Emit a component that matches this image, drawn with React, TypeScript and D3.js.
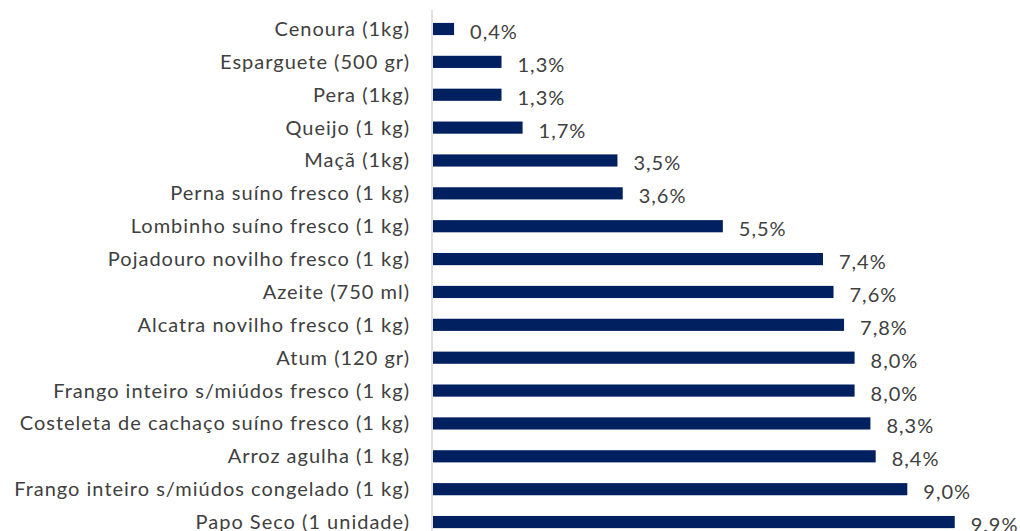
import React from "react";
import * as d3 from "d3";

const categories = [
  "Cenoura (1kg)",
  "Esparguete (500 gr)",
  "Pera (1kg)",
  "Queijo (1 kg)",
  "Maçã (1kg)",
  "Perna suíno fresco (1 kg)",
  "Lombinho suíno fresco (1 kg)",
  "Pojadouro novilho fresco (1 kg)",
  "Azeite (750 ml)",
  "Alcatra novilho fresco (1 kg)",
  "Atum (120 gr)",
  "Frango inteiro s/miúdos fresco (1 kg)",
  "Costeleta de cachaço suíno fresco (1 kg)",
  "Arroz agulha (1 kg)",
  "Frango inteiro s/miúdos congelado (1 kg)",
  "Papo Seco (1 unidade)",
];
const values = [0.4, 1.3, 1.3, 1.7, 3.5, 3.6, 5.5, 7.4, 7.6, 7.8, 8.0, 8.0, 8.3, 8.4, 9.0, 9.9];

const W = 1020;
const H = 531;
const FONT = "Lato, sans-serif";

export default function App() {
  const x = d3.scaleLinear().domain([0, 10]).range([433, 433 + 527]);
  const step = 32.87;
  const top = 29 - step / 2;
  const y = d3
    .scaleBand<string>()
    .domain(categories)
    .range([top, top + step * categories.length])
    .paddingInner(0.63)
    .paddingOuter(0.315);
  const fmt = (v: number) => v.toFixed(1).replace(".", ",") + "%";
  return (
    <svg
      width={W}
      height={H}
      style={{ position: "absolute", left: 0, top: 0, background: "#fff" }}
    >
      <line x1={432} x2={432} y1={10} y2={H} stroke="#d9d9d9" strokeWidth={1.5} />
      {categories.map((c, i) => {
        const yc = (y(c) as number) + y.bandwidth() / 2;
        return (
          <g key={c}>
            <text
              x={410}
              y={yc}
              dy="0.35em"
              textAnchor="end"
              fontFamily={FONT}
              fontSize={20}
              letterSpacing={1}
              fill="#404040"
            >
              {c}
            </text>
            <rect
              x={x(0)}
              y={y(c) as number}
              width={x(values[i]) - x(0)}
              height={y.bandwidth()}
              fill="#002060"
            />
            <text
              x={x(values[i]) + 16}
              y={yc + 3}
              dy="0.35em"
              fontFamily={FONT}
              fontSize={20}
              letterSpacing={1}
              fill="#404040"
            >
              {fmt(values[i])}
            </text>
          </g>
        );
      })}
    </svg>
  );
}
